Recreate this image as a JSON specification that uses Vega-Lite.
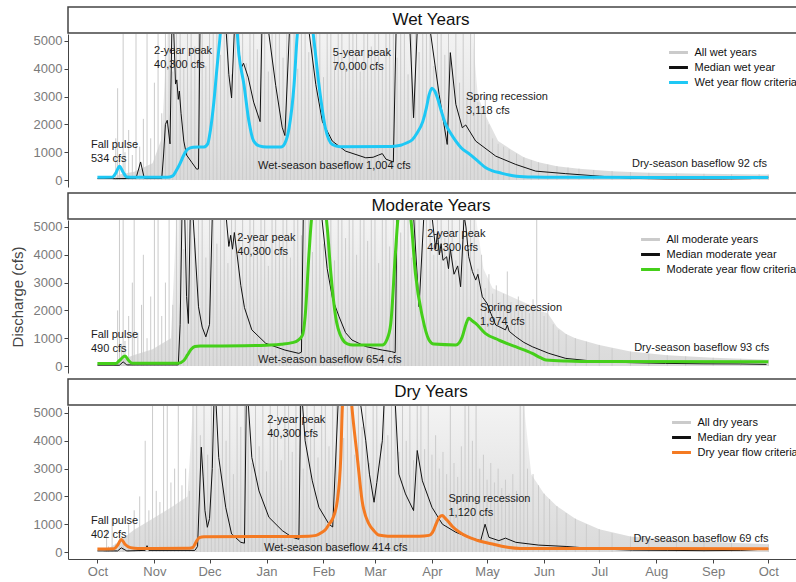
{
"$schema": "https://vega.github.io/schema/vega-lite/v6.json",
"padding": {"left": 10, "top": 6, "right": 0, "bottom": 2},
"config": {
  "font": "Liberation Sans",
  "view": {"stroke": null},
  "axis": {"grid": false, "domainColor": "#444", "tickColor": "#444", "tickSize": 4, "labelFontSize": 13, "labelColor": "#7a7a7a", "labelPadding": 2, "titleFontSize": 15, "titleFontWeight": "normal", "titleColor": "#444", "titlePadding": 8},
  "legend": {"orient": "none", "symbolType": "M-1.35,0H1.35", "symbolStrokeWidth": 3, "symbolSize": 196, "labelFontSize": 11, "labelColor": "#111", "rowPadding": 0, "labelOffset": 7.5, "labelLimit": 220}
},
"datasets": {
"band": [
{"p":"w","d":8,"v":0},{"p":"w","d":12,"v":200},{"p":"w","d":20,"v":300},{"p":"w","d":30,"v":600},{"p":"w","d":35,"v":1500},{"p":"w","d":38,"v":5300},{"p":"w","d":204,"v":5300},{"p":"w","d":207,"v":3000},{"p":"w","d":212,"v":2200},{"p":"w","d":218,"v":1400},{"p":"w","d":225,"v":1100},{"p":"w","d":232,"v":820},{"p":"w","d":240,"v":640},{"p":"w","d":250,"v":500},{"p":"w","d":262,"v":410},{"p":"w","d":280,"v":320},{"p":"w","d":300,"v":260},{"p":"w","d":330,"v":225},{"p":"w","d":365,"v":200},
{"p":"m","d":9,"v":0},{"p":"m","d":12,"v":200},{"p":"m","d":20,"v":400},{"p":"m","d":30,"v":600},{"p":"m","d":40,"v":1000},{"p":"m","d":43,"v":5300},{"p":"m","d":206,"v":5300},{"p":"m","d":210,"v":3500},{"p":"m","d":215,"v":2800},{"p":"m","d":225,"v":2500},{"p":"m","d":235,"v":2200},{"p":"m","d":240,"v":2000},{"p":"m","d":245,"v":1900},{"p":"m","d":250,"v":1400},{"p":"m","d":255,"v":1150},{"p":"m","d":260,"v":1000},{"p":"m","d":273,"v":760},{"p":"m","d":290,"v":520},{"p":"m","d":310,"v":390},{"p":"m","d":335,"v":300},{"p":"m","d":365,"v":230},
{"p":"y","d":3,"v":0},{"p":"y","d":10,"v":300},{"p":"y","d":20,"v":800},{"p":"y","d":30,"v":1200},{"p":"y","d":40,"v":1600},{"p":"y","d":49,"v":2000},{"p":"y","d":52,"v":5300},{"p":"y","d":232,"v":5300},{"p":"y","d":236,"v":2800},{"p":"y","d":243,"v":2100},{"p":"y","d":250,"v":1650},{"p":"y","d":260,"v":1200},{"p":"y","d":273,"v":820},{"p":"y","d":290,"v":560},{"p":"y","d":315,"v":420},{"p":"y","d":345,"v":330},{"p":"y","d":365,"v":280}
],
"gray": [
{"p":"w","d":8,"v":0},{"p":"w","d":10,"v":1500},{"p":"w","d":11,"v":3300},{"p":"w","d":12,"v":700},{"p":"w","d":14,"v":5300},{"p":"w","d":15,"v":1000},{"p":"w","d":17,"v":1800},{"p":"w","d":19,"v":900},{"p":"w","d":21,"v":5300},{"p":"w","d":23,"v":1200},{"p":"w","d":25,"v":2200},{"p":"w","d":27,"v":5300},{"p":"w","d":29,"v":1500},{"p":"w","d":31,"v":3500},{"p":"w","d":33,"v":5300},{"p":"w","d":35,"v":2400},{"p":"w","d":37,"v":5300},{"p":"w","d":39,"v":5300},{"p":"w","d":41,"v":3900},{"p":"w","d":43,"v":5300},{"p":"w","d":45,"v":5300},{"p":"w","d":47,"v":4300},{"p":"w","d":49,"v":5300},{"p":"w","d":51,"v":5300},{"p":"w","d":53,"v":4800},{"p":"w","d":55,"v":5300},{"p":"w","d":57,"v":5300},{"p":"w","d":59,"v":4100},{"p":"w","d":61,"v":5300},{"p":"w","d":63,"v":5300},{"p":"w","d":65,"v":5300},{"p":"w","d":67,"v":4500},{"p":"w","d":69,"v":5300},{"p":"w","d":71,"v":5300},{"p":"w","d":73,"v":3800},{"p":"w","d":75,"v":5300},{"p":"w","d":77,"v":5300},{"p":"w","d":79,"v":5300},{"p":"w","d":81,"v":4200},{"p":"w","d":83,"v":5300},{"p":"w","d":85,"v":5300},{"p":"w","d":87,"v":4700},{"p":"w","d":89,"v":5300},{"p":"w","d":91,"v":5300},{"p":"w","d":93,"v":3900},{"p":"w","d":95,"v":5300},{"p":"w","d":97,"v":5300},{"p":"w","d":99,"v":5300},{"p":"w","d":101,"v":4400},{"p":"w","d":103,"v":5300},{"p":"w","d":105,"v":5300},{"p":"w","d":107,"v":5300},{"p":"w","d":109,"v":4000},{"p":"w","d":111,"v":5300},{"p":"w","d":113,"v":5300},{"p":"w","d":115,"v":4600},{"p":"w","d":117,"v":5300},{"p":"w","d":119,"v":5300},{"p":"w","d":121,"v":5300},{"p":"w","d":123,"v":3700},{"p":"w","d":125,"v":5300},{"p":"w","d":127,"v":5300},{"p":"w","d":129,"v":4500},{"p":"w","d":131,"v":5300},{"p":"w","d":133,"v":5300},{"p":"w","d":135,"v":4100},{"p":"w","d":137,"v":5300},{"p":"w","d":139,"v":5300},{"p":"w","d":141,"v":5300},{"p":"w","d":143,"v":3900},{"p":"w","d":145,"v":5300},{"p":"w","d":147,"v":5300},{"p":"w","d":149,"v":4800},{"p":"w","d":151,"v":5300},{"p":"w","d":153,"v":5300},{"p":"w","d":155,"v":4200},{"p":"w","d":157,"v":5300},{"p":"w","d":159,"v":5300},{"p":"w","d":161,"v":5300},{"p":"w","d":163,"v":4400},{"p":"w","d":165,"v":5300},{"p":"w","d":167,"v":5300},{"p":"w","d":169,"v":3800},{"p":"w","d":171,"v":5300},{"p":"w","d":173,"v":5300},{"p":"w","d":175,"v":4600},{"p":"w","d":177,"v":5300},{"p":"w","d":179,"v":5300},{"p":"w","d":181,"v":5300},{"p":"w","d":183,"v":4100},{"p":"w","d":185,"v":5300},{"p":"w","d":187,"v":5300},{"p":"w","d":189,"v":4500},{"p":"w","d":191,"v":5300},{"p":"w","d":193,"v":4000},{"p":"w","d":195,"v":5300},{"p":"w","d":197,"v":3500},{"p":"w","d":199,"v":5300},{"p":"w","d":201,"v":3000},{"p":"w","d":203,"v":5300},{"p":"w","d":205,"v":5300},{"p":"w","d":207,"v":2800},{"p":"w","d":209,"v":2400},{"p":"w","d":211,"v":3000},{"p":"w","d":213,"v":2000},{"p":"w","d":215,"v":1500},{"p":"w","d":218,"v":1300},{"p":"w","d":221,"v":1200},{"p":"w","d":224,"v":1100},{"p":"w","d":228,"v":950},{"p":"w","d":232,"v":820},{"p":"w","d":236,"v":720},{"p":"w","d":240,"v":640},{"p":"w","d":245,"v":560},{"p":"w","d":250,"v":500},{"p":"w","d":256,"v":450},{"p":"w","d":262,"v":410},{"p":"w","d":270,"v":360},{"p":"w","d":280,"v":320},{"p":"w","d":290,"v":290},{"p":"w","d":300,"v":260},{"p":"w","d":315,"v":240},{"p":"w","d":330,"v":225},{"p":"w","d":345,"v":215},{"p":"w","d":360,"v":205},{"p":"w","d":365,"v":200},
{"p":"m","d":9,"v":0},{"p":"m","d":11,"v":2000},{"p":"m","d":12,"v":5300},{"p":"m","d":13,"v":800},{"p":"m","d":14,"v":5300},{"p":"m","d":15,"v":900},{"p":"m","d":17,"v":1800},{"p":"m","d":19,"v":3000},{"p":"m","d":20,"v":5300},{"p":"m","d":22,"v":1200},{"p":"m","d":24,"v":2200},{"p":"m","d":25,"v":4000},{"p":"m","d":27,"v":1000},{"p":"m","d":29,"v":2500},{"p":"m","d":31,"v":5300},{"p":"m","d":33,"v":5300},{"p":"m","d":35,"v":1800},{"p":"m","d":37,"v":3000},{"p":"m","d":39,"v":5300},{"p":"m","d":41,"v":2200},{"p":"m","d":43,"v":5300},{"p":"m","d":45,"v":5300},{"p":"m","d":47,"v":4200},{"p":"m","d":49,"v":5300},{"p":"m","d":51,"v":5300},{"p":"m","d":53,"v":4600},{"p":"m","d":55,"v":5300},{"p":"m","d":57,"v":5300},{"p":"m","d":59,"v":3900},{"p":"m","d":61,"v":5300},{"p":"m","d":63,"v":5300},{"p":"m","d":65,"v":4400},{"p":"m","d":67,"v":5300},{"p":"m","d":69,"v":5300},{"p":"m","d":71,"v":3700},{"p":"m","d":73,"v":5300},{"p":"m","d":75,"v":5300},{"p":"m","d":77,"v":4800},{"p":"m","d":79,"v":5300},{"p":"m","d":81,"v":4000},{"p":"m","d":83,"v":5300},{"p":"m","d":85,"v":5300},{"p":"m","d":87,"v":4300},{"p":"m","d":89,"v":5300},{"p":"m","d":91,"v":5300},{"p":"m","d":93,"v":3600},{"p":"m","d":95,"v":5300},{"p":"m","d":97,"v":5300},{"p":"m","d":99,"v":4500},{"p":"m","d":101,"v":5300},{"p":"m","d":103,"v":5300},{"p":"m","d":105,"v":3900},{"p":"m","d":107,"v":5300},{"p":"m","d":109,"v":5300},{"p":"m","d":111,"v":4700},{"p":"m","d":113,"v":5300},{"p":"m","d":115,"v":5300},{"p":"m","d":117,"v":4100},{"p":"m","d":119,"v":5300},{"p":"m","d":121,"v":5300},{"p":"m","d":123,"v":4400},{"p":"m","d":125,"v":5300},{"p":"m","d":127,"v":5300},{"p":"m","d":129,"v":3800},{"p":"m","d":131,"v":5300},{"p":"m","d":133,"v":5300},{"p":"m","d":135,"v":4600},{"p":"m","d":137,"v":5300},{"p":"m","d":139,"v":5300},{"p":"m","d":141,"v":4000},{"p":"m","d":143,"v":5300},{"p":"m","d":145,"v":5300},{"p":"m","d":147,"v":4500},{"p":"m","d":149,"v":5300},{"p":"m","d":151,"v":5300},{"p":"m","d":153,"v":3700},{"p":"m","d":155,"v":5300},{"p":"m","d":157,"v":5300},{"p":"m","d":159,"v":4300},{"p":"m","d":161,"v":5300},{"p":"m","d":163,"v":5300},{"p":"m","d":165,"v":4800},{"p":"m","d":167,"v":5300},{"p":"m","d":169,"v":5300},{"p":"m","d":171,"v":3900},{"p":"m","d":173,"v":5300},{"p":"m","d":175,"v":5300},{"p":"m","d":177,"v":4400},{"p":"m","d":179,"v":5300},{"p":"m","d":181,"v":5300},{"p":"m","d":183,"v":4000},{"p":"m","d":185,"v":5300},{"p":"m","d":187,"v":5300},{"p":"m","d":189,"v":4600},{"p":"m","d":191,"v":5300},{"p":"m","d":193,"v":5300},{"p":"m","d":195,"v":3800},{"p":"m","d":197,"v":5300},{"p":"m","d":199,"v":5300},{"p":"m","d":201,"v":4200},{"p":"m","d":203,"v":5300},{"p":"m","d":205,"v":5300},{"p":"m","d":207,"v":3500},{"p":"m","d":209,"v":4000},{"p":"m","d":211,"v":2800},{"p":"m","d":213,"v":3300},{"p":"m","d":215,"v":2600},{"p":"m","d":217,"v":2900},{"p":"m","d":219,"v":2300},{"p":"m","d":221,"v":2600},{"p":"m","d":223,"v":3400},{"p":"m","d":225,"v":2300},{"p":"m","d":227,"v":2100},{"p":"m","d":229,"v":2500},{"p":"m","d":231,"v":2000},{"p":"m","d":233,"v":2200},{"p":"m","d":235,"v":1900},{"p":"m","d":237,"v":2400},{"p":"m","d":239,"v":5300},{"p":"m","d":241,"v":2000},{"p":"m","d":243,"v":1800},{"p":"m","d":245,"v":2200},{"p":"m","d":248,"v":1500},{"p":"m","d":251,"v":1300},{"p":"m","d":255,"v":1150},{"p":"m","d":260,"v":1000},{"p":"m","d":266,"v":880},{"p":"m","d":273,"v":760},{"p":"m","d":280,"v":640},{"p":"m","d":290,"v":520},{"p":"m","d":300,"v":440},{"p":"m","d":310,"v":390},{"p":"m","d":320,"v":350},{"p":"m","d":335,"v":300},{"p":"m","d":350,"v":260},{"p":"m","d":365,"v":230},
{"p":"y","d":3,"v":0},{"p":"y","d":5,"v":800},{"p":"y","d":6,"v":200},{"p":"y","d":8,"v":1200},{"p":"y","d":10,"v":300},{"p":"y","d":12,"v":600},{"p":"y","d":14,"v":300},{"p":"y","d":17,"v":1000},{"p":"y","d":20,"v":1500},{"p":"y","d":23,"v":2000},{"p":"y","d":26,"v":4000},{"p":"y","d":28,"v":1500},{"p":"y","d":30,"v":5300},{"p":"y","d":32,"v":2200},{"p":"y","d":34,"v":1800},{"p":"y","d":36,"v":5300},{"p":"y","d":38,"v":5300},{"p":"y","d":40,"v":2500},{"p":"y","d":42,"v":3000},{"p":"y","d":44,"v":5300},{"p":"y","d":46,"v":2400},{"p":"y","d":48,"v":3000},{"p":"y","d":50,"v":2200},{"p":"y","d":52,"v":5300},{"p":"y","d":54,"v":5300},{"p":"y","d":56,"v":4200},{"p":"y","d":58,"v":5300},{"p":"y","d":60,"v":3500},{"p":"y","d":62,"v":5300},{"p":"y","d":64,"v":5300},{"p":"y","d":66,"v":3000},{"p":"y","d":68,"v":5300},{"p":"y","d":70,"v":4000},{"p":"y","d":72,"v":5300},{"p":"y","d":74,"v":2800},{"p":"y","d":76,"v":5300},{"p":"y","d":78,"v":4500},{"p":"y","d":80,"v":5300},{"p":"y","d":82,"v":5300},{"p":"y","d":84,"v":3200},{"p":"y","d":86,"v":5300},{"p":"y","d":88,"v":3800},{"p":"y","d":90,"v":5300},{"p":"y","d":92,"v":2900},{"p":"y","d":94,"v":5300},{"p":"y","d":96,"v":4200},{"p":"y","d":98,"v":5300},{"p":"y","d":100,"v":3300},{"p":"y","d":102,"v":5300},{"p":"y","d":104,"v":5300},{"p":"y","d":106,"v":3600},{"p":"y","d":108,"v":5300},{"p":"y","d":110,"v":5300},{"p":"y","d":112,"v":3000},{"p":"y","d":114,"v":5300},{"p":"y","d":116,"v":4300},{"p":"y","d":118,"v":5300},{"p":"y","d":120,"v":3400},{"p":"y","d":122,"v":5300},{"p":"y","d":124,"v":5300},{"p":"y","d":126,"v":3800},{"p":"y","d":128,"v":5300},{"p":"y","d":130,"v":5300},{"p":"y","d":132,"v":5300},{"p":"y","d":134,"v":4100},{"p":"y","d":136,"v":5300},{"p":"y","d":138,"v":5300},{"p":"y","d":140,"v":3500},{"p":"y","d":142,"v":5300},{"p":"y","d":144,"v":4500},{"p":"y","d":146,"v":5300},{"p":"y","d":148,"v":3200},{"p":"y","d":150,"v":5300},{"p":"y","d":152,"v":5300},{"p":"y","d":154,"v":3900},{"p":"y","d":156,"v":5300},{"p":"y","d":158,"v":4200},{"p":"y","d":160,"v":5300},{"p":"y","d":162,"v":5300},{"p":"y","d":164,"v":3600},{"p":"y","d":166,"v":5300},{"p":"y","d":168,"v":4000},{"p":"y","d":170,"v":5300},{"p":"y","d":172,"v":3300},{"p":"y","d":174,"v":5300},{"p":"y","d":176,"v":5300},{"p":"y","d":178,"v":3700},{"p":"y","d":180,"v":5300},{"p":"y","d":182,"v":3500},{"p":"y","d":184,"v":4200},{"p":"y","d":186,"v":3000},{"p":"y","d":188,"v":3600},{"p":"y","d":190,"v":2800},{"p":"y","d":192,"v":5300},{"p":"y","d":194,"v":3200},{"p":"y","d":196,"v":2700},{"p":"y","d":198,"v":3800},{"p":"y","d":200,"v":5300},{"p":"y","d":202,"v":5300},{"p":"y","d":204,"v":4000},{"p":"y","d":206,"v":5300},{"p":"y","d":208,"v":3000},{"p":"y","d":210,"v":3500},{"p":"y","d":212,"v":2600},{"p":"y","d":214,"v":3200},{"p":"y","d":216,"v":2500},{"p":"y","d":218,"v":3000},{"p":"y","d":220,"v":2300},{"p":"y","d":222,"v":2600},{"p":"y","d":224,"v":2100},{"p":"y","d":226,"v":2800},{"p":"y","d":228,"v":2200},{"p":"y","d":230,"v":5300},{"p":"y","d":232,"v":5300},{"p":"y","d":234,"v":3000},{"p":"y","d":237,"v":2800},{"p":"y","d":240,"v":2400},{"p":"y","d":243,"v":2100},{"p":"y","d":246,"v":1900},{"p":"y","d":250,"v":1650},{"p":"y","d":255,"v":1400},{"p":"y","d":260,"v":1200},{"p":"y","d":266,"v":1000},{"p":"y","d":273,"v":820},{"p":"y","d":280,"v":680},{"p":"y","d":290,"v":560},{"p":"y","d":300,"v":480},{"p":"y","d":315,"v":420},{"p":"y","d":330,"v":380},{"p":"y","d":345,"v":330},{"p":"y","d":365,"v":280}
],
"med": [
{"p":"w","d":0,"v":50},{"p":"w","d":10,"v":50},{"p":"w","d":21,"v":60},{"p":"w","d":23.5,"v":650},{"p":"w","d":25.5,"v":60},{"p":"w","d":35,"v":60},{"p":"w","d":36,"v":900},{"p":"w","d":37,"v":2000},{"p":"w","d":38,"v":2150},{"p":"w","d":39.5,"v":1300},{"p":"w","d":40.5,"v":5400},{"p":"w","d":41.5,"v":5400},{"p":"w","d":42.5,"v":3450},{"p":"w","d":43.2,"v":3600},{"p":"w","d":44,"v":2900},{"p":"w","d":44.6,"v":3200},{"p":"w","d":45.5,"v":2400},{"p":"w","d":47,"v":1400},{"p":"w","d":48.5,"v":900},{"p":"w","d":51.5,"v":620},{"p":"w","d":54,"v":390},{"p":"w","d":55,"v":400},{"p":"w","d":55.8,"v":5400},{"p":"w","d":70,"v":5400},{"p":"w","d":71.5,"v":3800},{"p":"w","d":73,"v":2950},{"p":"w","d":74.5,"v":5400},{"p":"w","d":76,"v":5400},{"p":"w","d":78,"v":4000},{"p":"w","d":79.5,"v":4200},{"p":"w","d":82,"v":3700},{"p":"w","d":85,"v":2800},{"p":"w","d":88.5,"v":2100},{"p":"w","d":89.5,"v":5400},{"p":"w","d":93,"v":5400},{"p":"w","d":97,"v":3400},{"p":"w","d":100.5,"v":1900},{"p":"w","d":102,"v":1600},{"p":"w","d":104.5,"v":5400},{"p":"w","d":115,"v":5400},{"p":"w","d":118.8,"v":3440},{"p":"w","d":122.4,"v":2100},{"p":"w","d":127.8,"v":1400},{"p":"w","d":135,"v":1040},{"p":"w","d":146,"v":800},{"p":"w","d":150,"v":820},{"p":"w","d":153,"v":900},{"p":"w","d":155,"v":950},{"p":"w","d":157,"v":750},{"p":"w","d":161,"v":650},{"p":"w","d":162.5,"v":5400},{"p":"w","d":170,"v":5400},{"p":"w","d":172,"v":2240},{"p":"w","d":174,"v":5400},{"p":"w","d":181,"v":5400},{"p":"w","d":185.9,"v":3080},{"p":"w","d":190.3,"v":1280},{"p":"w","d":192,"v":4580},{"p":"w","d":195,"v":2720},{"p":"w","d":198.5,"v":1880},{"p":"w","d":200.4,"v":1980},{"p":"w","d":205.8,"v":1400},{"p":"w","d":216.7,"v":860},{"p":"w","d":227.6,"v":560},{"p":"w","d":238.5,"v":320},{"p":"w","d":254.8,"v":230},{"p":"w","d":273,"v":140},{"p":"w","d":291,"v":60},{"p":"w","d":310,"v":40},{"p":"w","d":340,"v":40},{"p":"w","d":355,"v":50},{"p":"w","d":365,"v":100},
{"p":"m","d":0,"v":30},{"p":"m","d":12,"v":30},{"p":"m","d":14,"v":150},{"p":"m","d":16,"v":40},{"p":"m","d":44,"v":40},{"p":"m","d":45,"v":1500},{"p":"m","d":46,"v":5400},{"p":"m","d":47.5,"v":5400},{"p":"m","d":48.5,"v":2500},{"p":"m","d":49.5,"v":1530},{"p":"m","d":50.5,"v":5400},{"p":"m","d":52,"v":5400},{"p":"m","d":55,"v":2130},{"p":"m","d":57,"v":1400},{"p":"m","d":59,"v":1050},{"p":"m","d":61,"v":1500},{"p":"m","d":62.5,"v":5400},{"p":"m","d":70,"v":5400},{"p":"m","d":71.5,"v":4300},{"p":"m","d":72.5,"v":4700},{"p":"m","d":73.5,"v":4200},{"p":"m","d":74.5,"v":4800},{"p":"m","d":76,"v":4000},{"p":"m","d":78,"v":2900},{"p":"m","d":80,"v":2100},{"p":"m","d":84,"v":1300},{"p":"m","d":91.6,"v":815},{"p":"m","d":102,"v":575},{"p":"m","d":109.6,"v":455},{"p":"m","d":111,"v":500},{"p":"m","d":112,"v":5400},{"p":"m","d":122,"v":5400},{"p":"m","d":125,"v":3500},{"p":"m","d":128,"v":2400},{"p":"m","d":131.5,"v":1770},{"p":"m","d":135,"v":1200},{"p":"m","d":138.5,"v":935},{"p":"m","d":146,"v":700},{"p":"m","d":155,"v":575},{"p":"m","d":160,"v":520},{"p":"m","d":162,"v":480},{"p":"m","d":163,"v":5400},{"p":"m","d":172,"v":5400},{"p":"m","d":175,"v":2130},{"p":"m","d":177.6,"v":5400},{"p":"m","d":182,"v":5400},{"p":"m","d":184,"v":4200},{"p":"m","d":185,"v":4800},{"p":"m","d":186,"v":4000},{"p":"m","d":187,"v":4400},{"p":"m","d":188,"v":3800},{"p":"m","d":190,"v":3930},{"p":"m","d":191,"v":3500},{"p":"m","d":192,"v":4200},{"p":"m","d":194,"v":3300},{"p":"m","d":196,"v":3600},{"p":"m","d":197.6,"v":2850},{"p":"m","d":199.5,"v":5400},{"p":"m","d":200.5,"v":5000},{"p":"m","d":202,"v":3930},{"p":"m","d":204,"v":3400},{"p":"m","d":205.8,"v":3090},{"p":"m","d":207,"v":3300},{"p":"m","d":209.4,"v":2490},{"p":"m","d":212,"v":2250},{"p":"m","d":214,"v":1900},{"p":"m","d":216.7,"v":1475},{"p":"m","d":219,"v":1400},{"p":"m","d":222,"v":1300},{"p":"m","d":223,"v":1475},{"p":"m","d":224,"v":1250},{"p":"m","d":227.6,"v":1055},{"p":"m","d":232,"v":850},{"p":"m","d":236.6,"v":695},{"p":"m","d":245.6,"v":455},{"p":"m","d":254.8,"v":275},{"p":"m","d":273,"v":155},{"p":"m","d":291,"v":120},{"p":"m","d":309,"v":95},{"p":"m","d":330,"v":80},{"p":"m","d":350,"v":75},{"p":"m","d":364,"v":60},
{"p":"y","d":0,"v":40},{"p":"y","d":11,"v":40},{"p":"y","d":13,"v":150},{"p":"y","d":16,"v":40},{"p":"y","d":26,"v":60},{"p":"y","d":27,"v":230},{"p":"y","d":28,"v":60},{"p":"y","d":53,"v":60},{"p":"y","d":54.5,"v":200},{"p":"y","d":56.5,"v":3770},{"p":"y","d":57.5,"v":2700},{"p":"y","d":58.5,"v":1500},{"p":"y","d":59.8,"v":890},{"p":"y","d":61,"v":1200},{"p":"y","d":62.5,"v":3000},{"p":"y","d":63.4,"v":5400},{"p":"y","d":64.5,"v":5400},{"p":"y","d":66,"v":3400},{"p":"y","d":69.8,"v":1610},{"p":"y","d":73,"v":650},{"p":"y","d":78,"v":350},{"p":"y","d":80,"v":320},{"p":"y","d":81,"v":5400},{"p":"y","d":82,"v":5400},{"p":"y","d":84,"v":3400},{"p":"y","d":87.9,"v":2200},{"p":"y","d":93.3,"v":1250},{"p":"y","d":100.6,"v":770},{"p":"y","d":106,"v":530},{"p":"y","d":109.6,"v":460},{"p":"y","d":110.6,"v":5400},{"p":"y","d":111.5,"v":5400},{"p":"y","d":113,"v":4000},{"p":"y","d":116.9,"v":2560},{"p":"y","d":120.5,"v":1610},{"p":"y","d":126,"v":1000},{"p":"y","d":128,"v":900},{"p":"y","d":131,"v":5400},{"p":"y","d":143,"v":5400},{"p":"y","d":146,"v":4000},{"p":"y","d":148,"v":2800},{"p":"y","d":150.5,"v":1790},{"p":"y","d":152,"v":2500},{"p":"y","d":155,"v":4000},{"p":"y","d":156,"v":5400},{"p":"y","d":162,"v":5400},{"p":"y","d":164,"v":2800},{"p":"y","d":167.6,"v":2090},{"p":"y","d":172,"v":1490},{"p":"y","d":174,"v":3650},{"p":"y","d":176.8,"v":2560},{"p":"y","d":182,"v":1610},{"p":"y","d":187.7,"v":1000},{"p":"y","d":195,"v":710},{"p":"y","d":202,"v":530},{"p":"y","d":208.5,"v":410},{"p":"y","d":210.9,"v":1000},{"p":"y","d":213,"v":530},{"p":"y","d":218.4,"v":410},{"p":"y","d":222,"v":500},{"p":"y","d":227.6,"v":350},{"p":"y","d":240,"v":250},{"p":"y","d":255,"v":200},{"p":"y","d":273,"v":110},{"p":"y","d":291,"v":70},{"p":"y","d":310,"v":60},{"p":"y","d":330,"v":50},{"p":"y","d":350,"v":60},{"p":"y","d":365,"v":110}
],
"crit": [
{"p":"w","d":0,"v":100},{"p":"w","d":8,"v":105},{"p":"w","d":10,"v":250},{"p":"w","d":12,"v":500},{"p":"w","d":14,"v":280},{"p":"w","d":16,"v":110},{"p":"w","d":20,"v":100},{"p":"w","d":38,"v":100},{"p":"w","d":41,"v":150},{"p":"w","d":43,"v":350},{"p":"w","d":45,"v":600},{"p":"w","d":47,"v":900},{"p":"w","d":49,"v":1100},{"p":"w","d":52,"v":1180},{"p":"w","d":58,"v":1190},{"p":"w","d":60,"v":1300},{"p":"w","d":61.5,"v":1800},{"p":"w","d":63.4,"v":2840},{"p":"w","d":65,"v":4000},{"p":"w","d":66.5,"v":5000},{"p":"w","d":68,"v":6000},{"p":"w","d":75,"v":6000},{"p":"w","d":77,"v":4500},{"p":"w","d":79.7,"v":3440},{"p":"w","d":82.4,"v":2120},{"p":"w","d":85,"v":1400},{"p":"w","d":88,"v":1230},{"p":"w","d":92,"v":1190},{"p":"w","d":100,"v":1190},{"p":"w","d":102.5,"v":1400},{"p":"w","d":104.3,"v":1880},{"p":"w","d":107,"v":3440},{"p":"w","d":108.7,"v":5200},{"p":"w","d":110,"v":6000},{"p":"w","d":116,"v":6000},{"p":"w","d":117.5,"v":5200},{"p":"w","d":120.5,"v":3440},{"p":"w","d":124,"v":1880},{"p":"w","d":127.8,"v":1280},{"p":"w","d":132,"v":1200},{"p":"w","d":160,"v":1210},{"p":"w","d":165,"v":1250},{"p":"w","d":168,"v":1330},{"p":"w","d":171.3,"v":1450},{"p":"w","d":174,"v":1700},{"p":"w","d":177,"v":2100},{"p":"w","d":179,"v":2600},{"p":"w","d":180.4,"v":3050},{"p":"w","d":182,"v":3300},{"p":"w","d":183.5,"v":3200},{"p":"w","d":185,"v":2950},{"p":"w","d":187,"v":2500},{"p":"w","d":189.5,"v":2000},{"p":"w","d":192,"v":1700},{"p":"w","d":195,"v":1400},{"p":"w","d":198,"v":1150},{"p":"w","d":202.6,"v":925},{"p":"w","d":207,"v":680},{"p":"w","d":211.3,"v":440},{"p":"w","d":215,"v":330},{"p":"w","d":219,"v":260},{"p":"w","d":224,"v":180},{"p":"w","d":228,"v":140},{"p":"w","d":237,"v":110},{"p":"w","d":250,"v":100},{"p":"w","d":300,"v":95},{"p":"w","d":365,"v":95},
{"p":"m","d":0,"v":90},{"p":"m","d":10,"v":90},{"p":"m","d":12,"v":200},{"p":"m","d":15,"v":360},{"p":"m","d":17,"v":200},{"p":"m","d":19,"v":100},{"p":"m","d":44,"v":100},{"p":"m","d":47,"v":200},{"p":"m","d":49,"v":400},{"p":"m","d":51,"v":600},{"p":"m","d":53,"v":700},{"p":"m","d":56,"v":720},{"p":"m","d":80,"v":730},{"p":"m","d":92,"v":750},{"p":"m","d":100,"v":780},{"p":"m","d":106,"v":840},{"p":"m","d":109,"v":920},{"p":"m","d":111.5,"v":1100},{"p":"m","d":113,"v":1770},{"p":"m","d":115,"v":3930},{"p":"m","d":116.5,"v":5300},{"p":"m","d":118,"v":6000},{"p":"m","d":123,"v":6000},{"p":"m","d":125,"v":5000},{"p":"m","d":127,"v":3330},{"p":"m","d":129.6,"v":1770},{"p":"m","d":133,"v":1000},{"p":"m","d":136,"v":800},{"p":"m","d":139,"v":760},{"p":"m","d":155,"v":755},{"p":"m","d":157.5,"v":950},{"p":"m","d":159.6,"v":1530},{"p":"m","d":162,"v":3930},{"p":"m","d":163.5,"v":5300},{"p":"m","d":165,"v":6000},{"p":"m","d":168,"v":6000},{"p":"m","d":170.5,"v":5300},{"p":"m","d":173,"v":3330},{"p":"m","d":176.8,"v":1770},{"p":"m","d":180.4,"v":935},{"p":"m","d":183,"v":790},{"p":"m","d":195,"v":760},{"p":"m","d":197,"v":850},{"p":"m","d":198.5,"v":1050},{"p":"m","d":200.5,"v":1500},{"p":"m","d":202,"v":1715},{"p":"m","d":203.5,"v":1650},{"p":"m","d":205.8,"v":1535},{"p":"m","d":211,"v":1175},{"p":"m","d":218.4,"v":935},{"p":"m","d":227.5,"v":695},{"p":"m","d":236.6,"v":455},{"p":"m","d":241,"v":300},{"p":"m","d":244,"v":220},{"p":"m","d":255,"v":180},{"p":"m","d":273,"v":160},{"p":"m","d":365,"v":150},
{"p":"y","d":0,"v":110},{"p":"y","d":9,"v":120},{"p":"y","d":11,"v":250},{"p":"y","d":13,"v":450},{"p":"y","d":15,"v":280},{"p":"y","d":18,"v":160},{"p":"y","d":22,"v":130},{"p":"y","d":50,"v":140},{"p":"y","d":52,"v":170},{"p":"y","d":54,"v":400},{"p":"y","d":55.5,"v":520},{"p":"y","d":58,"v":550},{"p":"y","d":100,"v":560},{"p":"y","d":115,"v":570},{"p":"y","d":119,"v":600},{"p":"y","d":122,"v":700},{"p":"y","d":124,"v":800},{"p":"y","d":126,"v":1000},{"p":"y","d":128,"v":1200},{"p":"y","d":130.5,"v":1845},{"p":"y","d":132.4,"v":3400},{"p":"y","d":133.3,"v":5260},{"p":"y","d":134.5,"v":6000},{"p":"y","d":137.5,"v":6000},{"p":"y","d":138.4,"v":5260},{"p":"y","d":141.4,"v":3400},{"p":"y","d":144,"v":1845},{"p":"y","d":147.8,"v":1000},{"p":"y","d":150,"v":800},{"p":"y","d":153,"v":610},{"p":"y","d":158,"v":570},{"p":"y","d":175,"v":570},{"p":"y","d":180.4,"v":600},{"p":"y","d":182,"v":680},{"p":"y","d":183,"v":800},{"p":"y","d":184.5,"v":1050},{"p":"y","d":186,"v":1250},{"p":"y","d":187.7,"v":1310},{"p":"y","d":189,"v":1230},{"p":"y","d":190.4,"v":1130},{"p":"y","d":193,"v":930},{"p":"y","d":197,"v":710},{"p":"y","d":201,"v":560},{"p":"y","d":205.8,"v":440},{"p":"y","d":210,"v":360},{"p":"y","d":215,"v":290},{"p":"y","d":220,"v":210},{"p":"y","d":224,"v":160},{"p":"y","d":230,"v":130},{"p":"y","d":365,"v":120}
],
"notes": [
{"p":"w","d":-3.5,"v":1151,"t":"Fall pulse\n534 cfs"},{"p":"w","d":30.8,"v":4532,"t":"2-year peak\n40,300 cfs"},{"p":"w","d":128.1,"v":4460,"t":"5-year peak\n70,000 cfs"},{"p":"w","d":87.4,"v":396,"t":"Wet-season baseflow 1,004 cfs"},{"p":"w","d":200.5,"v":2878,"t":"Spring recession\n3,118 cfs"},{"p":"w","d":290.8,"v":468,"t":"Dry-season baseflow 92 cfs"},
{"p":"m","d":-3.5,"v":1007,"t":"Fall pulse\n490 cfs"},{"p":"m","d":76.1,"v":4507,"t":"2-year peak\n40,300 cfs"},{"p":"m","d":87.4,"v":97,"t":"Wet-season baseflow 654 cfs"},{"p":"m","d":179.5,"v":4629,"t":"2-year peak\n40,300 cfs"},{"p":"m","d":208.2,"v":1989,"t":"Spring recession\n1,974 cfs"},{"p":"m","d":292,"v":529,"t":"Dry-season baseflow 93 cfs"},
{"p":"y","d":-3.5,"v":1018,"t":"Fall pulse\n402 cfs"},{"p":"y","d":92.4,"v":4640,"t":"2-year peak\n40,300 cfs"},{"p":"y","d":90.6,"v":25,"t":"Wet-season baseflow 414 cfs"},{"p":"y","d":191,"v":1798,"t":"Spring recession\n1,120 cfs"},{"p":"y","d":291.6,"v":360,"t":"Dry-season baseflow 69 cfs"}
]
},
"resolve": {"scale": {"color": "independent", "x": "independent", "y": "independent"}, "legend": {"color": "independent"}, "axis": {"x": "independent", "y": "independent"}},
"spacing": 4,
"vconcat": [
{
 "spacing": 0,
 "vconcat": [
  {"width": 729, "height": 26, "view": {"stroke": "#444", "strokeWidth": 1.5},
   "data": {"values": [{"t": "Wet Years"}]},
   "mark": {"type": "text", "fontSize": 17, "color": "#111", "dx": -1.5},
   "encoding": {"text": {"field": "t"}}},
  {"width": 729, "height": 153,
   "encoding": {
     "x": {"field": "d", "type": "quantitative", "scale": {"domain": [-16, 380.6], "nice": false, "zero": false}, "axis": null},
     "y": {"field": "v", "type": "quantitative", "scale": {"domain": [-250, 5250], "nice": false, "zero": false}, "axis": {"values": [0,1000,2000,3000,4000,5000], "format": "d", "title": "Discharge (cfs)", "titleOpacity": 0}}
   },
   "layer": [
     {"data": {"name": "band"}, "transform": [{"filter": "datum.p == 'w'"}],
      "mark": {"type": "area", "clip": true, "color": {"gradient": "linear", "x1": 0, "y1": 1, "x2": 0, "y2": 0, "stops": [{"offset": 0, "color": "#dadada"}, {"offset": 1, "color": "#f3f3f3"}]}},
      "encoding": {"y2": {"datum": 0}}},
     {"data": {"name": "gray"}, "transform": [{"filter": "datum.p == 'w'"}],
      "mark": {"type": "rule", "clip": true, "strokeWidth": 1},
      "encoding": {"y2": {"datum": 0}, "color": {"datum": "All wet years", "scale": {"domain": ["All wet years", "Median wet year", "Wet year flow criteria"], "range": ["#cbcbcb", "#111111", "#1ec8f5"]}, "legend": {"title": null, "legendX": 602, "legendY": 37}}}},
     {"data": {"name": "med"}, "transform": [{"filter": "datum.p == 'w'"}],
      "mark": {"type": "line", "clip": true, "strokeWidth": 1},
      "encoding": {"color": {"datum": "Median wet year"}}},
     {"data": {"name": "crit"}, "transform": [{"filter": "datum.p == 'w'"}],
      "mark": {"type": "line", "clip": true, "strokeWidth": 3, "interpolate": "monotone"},
      "encoding": {"color": {"datum": "Wet year flow criteria"}}},
     {"data": {"name": "notes"}, "transform": [{"filter": "datum.p == 'w'"}],
      "mark": {"type": "text", "align": "left", "baseline": "alphabetic", "fontSize": 11, "lineBreak": "\n", "lineHeight": 14, "color": "#1a1a1a"},
      "encoding": {"text": {"field": "t"}}}
   ]}
 ]
},
{
 "spacing": 0,
 "vconcat": [
  {"width": 729, "height": 26, "view": {"stroke": "#444", "strokeWidth": 1.5},
   "data": {"values": [{"t": "Moderate Years"}]},
   "mark": {"type": "text", "fontSize": 17, "color": "#111", "dx": -1.5},
   "encoding": {"text": {"field": "t"}}},
  {"width": 729, "height": 153,
   "encoding": {
     "x": {"field": "d", "type": "quantitative", "scale": {"domain": [-16, 380.6], "nice": false, "zero": false}, "axis": null},
     "y": {"field": "v", "type": "quantitative", "scale": {"domain": [-250, 5250], "nice": false, "zero": false}, "axis": {"values": [0,1000,2000,3000,4000,5000], "format": "d", "title": "Discharge (cfs)"}}
   },
   "layer": [
     {"data": {"name": "band"}, "transform": [{"filter": "datum.p == 'm'"}],
      "mark": {"type": "area", "clip": true, "color": {"gradient": "linear", "x1": 0, "y1": 1, "x2": 0, "y2": 0, "stops": [{"offset": 0, "color": "#dadada"}, {"offset": 1, "color": "#f3f3f3"}]}},
      "encoding": {"y2": {"datum": 0}}},
     {"data": {"name": "gray"}, "transform": [{"filter": "datum.p == 'm'"}],
      "mark": {"type": "rule", "clip": true, "strokeWidth": 1},
      "encoding": {"y2": {"datum": 0}, "color": {"datum": "All moderate years", "scale": {"domain": ["All moderate years", "Median moderate year", "Moderate year flow criteria"], "range": ["#cbcbcb", "#111111", "#45cf1a"]}, "legend": {"title": null, "legendX": 574, "legendY": 38}}}},
     {"data": {"name": "med"}, "transform": [{"filter": "datum.p == 'm'"}],
      "mark": {"type": "line", "clip": true, "strokeWidth": 1},
      "encoding": {"color": {"datum": "Median moderate year"}}},
     {"data": {"name": "crit"}, "transform": [{"filter": "datum.p == 'm'"}],
      "mark": {"type": "line", "clip": true, "strokeWidth": 3, "interpolate": "monotone"},
      "encoding": {"color": {"datum": "Moderate year flow criteria"}}},
     {"data": {"name": "notes"}, "transform": [{"filter": "datum.p == 'm'"}],
      "mark": {"type": "text", "align": "left", "baseline": "alphabetic", "fontSize": 11, "lineBreak": "\n", "lineHeight": 14, "color": "#1a1a1a"},
      "encoding": {"text": {"field": "t"}}}
   ]}
 ]
},
{
 "spacing": 0,
 "vconcat": [
  {"width": 729, "height": 26, "view": {"stroke": "#444", "strokeWidth": 1.5},
   "data": {"values": [{"t": "Dry Years"}]},
   "mark": {"type": "text", "fontSize": 17, "color": "#111", "dx": -1.5},
   "encoding": {"text": {"field": "t"}}},
  {"width": 729, "height": 153,
   "encoding": {
     "x": {"field": "d", "type": "quantitative", "scale": {"domain": [-16, 380.6], "nice": false, "zero": false}, "axis": {"values": [0,31,61,92,123,151,182,212,243,273,304,335,365], "labelExpr": "['Oct','Nov','Dec','Jan','Feb','Mar','Apr','May','Jun','Jul','Aug','Sep','Oct'][indexof([0,31,61,92,123,151,182,212,243,273,304,335,365], datum.value)]", "title": null, "labelPadding": 2}},
     "y": {"field": "v", "type": "quantitative", "scale": {"domain": [-250, 5250], "nice": false, "zero": false}, "axis": {"values": [0,1000,2000,3000,4000,5000], "format": "d", "title": "Discharge (cfs)", "titleOpacity": 0}}
   },
   "layer": [
     {"data": {"name": "band"}, "transform": [{"filter": "datum.p == 'y'"}],
      "mark": {"type": "area", "clip": true, "color": {"gradient": "linear", "x1": 0, "y1": 1, "x2": 0, "y2": 0, "stops": [{"offset": 0, "color": "#dadada"}, {"offset": 1, "color": "#f3f3f3"}]}},
      "encoding": {"y2": {"datum": 0}}},
     {"data": {"name": "gray"}, "transform": [{"filter": "datum.p == 'y'"}],
      "mark": {"type": "rule", "clip": true, "strokeWidth": 1},
      "encoding": {"y2": {"datum": 0}, "color": {"datum": "All dry years", "scale": {"domain": ["All dry years", "Median dry year", "Dry year flow criteria"], "range": ["#cbcbcb", "#111111", "#f47a22"]}, "legend": {"title": null, "legendX": 605, "legendY": 35}}}},
     {"data": {"name": "med"}, "transform": [{"filter": "datum.p == 'y'"}],
      "mark": {"type": "line", "clip": true, "strokeWidth": 1},
      "encoding": {"color": {"datum": "Median dry year"}}},
     {"data": {"name": "crit"}, "transform": [{"filter": "datum.p == 'y'"}],
      "mark": {"type": "line", "clip": true, "strokeWidth": 3, "interpolate": "monotone"},
      "encoding": {"color": {"datum": "Dry year flow criteria"}}},
     {"data": {"name": "notes"}, "transform": [{"filter": "datum.p == 'y'"}],
      "mark": {"type": "text", "align": "left", "baseline": "alphabetic", "fontSize": 11, "lineBreak": "\n", "lineHeight": 14, "color": "#1a1a1a"},
      "encoding": {"text": {"field": "t"}}}
   ]}
 ]
}
]
}
